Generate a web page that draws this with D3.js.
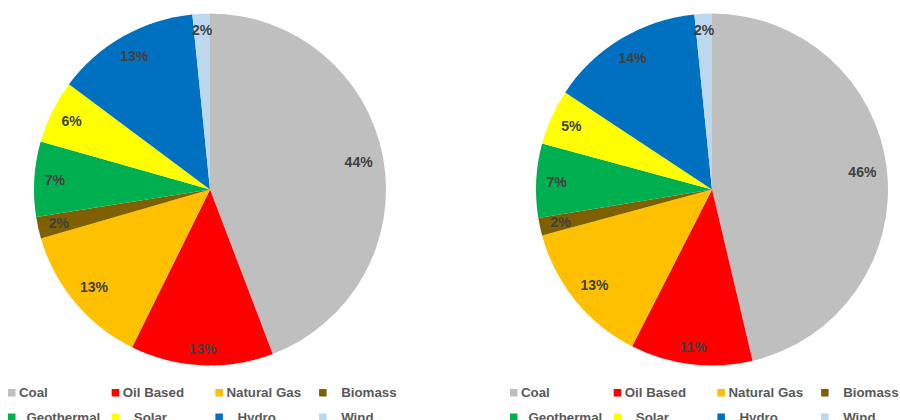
<!DOCTYPE html>
<html>
<head>
<meta charset="utf-8">
<script src="https://cdn.jsdelivr.net/npm/d3@7"></script>
<style>
  body { margin: 0; background: #fff; }
  svg { font-family: Arial, "Liberation Sans", sans-serif; }
  .lbl { font-size: 14px; font-weight: bold; fill: #404040; }
  .leg { font-size: 13.3px; font-weight: bold; fill: #595959; white-space: pre; }
</style>
</head>
<body>
<svg width="900" height="420"></svg>
<script>
// categories (legend names keep the leading blanks of the source sheet)
const categories = ['Coal', 'Oil Based', 'Natural Gas', '   Biomass', '  Geothermal', '   Solar', '   Hydro', '   Wind'];
const colors = ['#bfbfbf', '#ff0000', '#ffc000', '#7f6000', '#00b050', '#ffff00', '#0070c0', '#bdd7ee'];

// share of generation, percent, one array per pie
const leftValues = [44.2, 13.1, 13.2, 2.0, 6.9, 5.8, 13.2, 1.6];
const rightValues = [46.3, 11.2, 13.3, 1.6, 6.8, 5.1, 14.1, 1.6];

var svg = d3.select('svg');

// width of one panel, radius of pie
let panelW = 502;
let r = 176;

const color = d3.scaleOrdinal().domain(categories).range(colors);

function drawPanel(values, dx) {
    let data = categories.map((c, i) => ({name: c, value: values[i]}));
    let g = svg.append('g').attr('transform', 'translate(' + dx + ',0)');

    let pie = d3.pie().value(d => d.value).sort(null);
    let arc = d3.arc().innerRadius(0).outerRadius(r);
    let arcs = pie(data);

    let pieG = g.append('g').attr('transform', 'translate(210,189.5)');
    pieG.selectAll('path').data(arcs).enter().append('path')
        .attr('d', arc)
        .attr('fill', d => color(d.data.name));

    // labels at the inside end, pulled in by half the text box
    let total = d3.sum(values);
    pieG.selectAll('text').data(arcs).enter().append('text')
        .attr('class', 'lbl')
        .attr('text-anchor', 'middle')
        .text(d => Math.round(d.data.value / total * 100) + '%')
        .each(function(d) {
            let a = (d.startAngle + d.endAngle) / 2;
            let w = this.getComputedTextLength();
            let s = Math.sin(a), c = -Math.cos(a);
            let dist = r - 10 - Math.abs(s) * w / 2 - Math.abs(c) * 6;
            d3.select(this)
                .attr('x', s * dist)
                .attr('y', c * dist + 5);
        });

    // legend: 4 columns, 2 rows
    let leg = g.selectAll('.legitem').data(categories).enter().append('g')
        .attr('class', 'legitem')
        .attr('transform', (d, i) => 'translate(' + (8 + (i % 4) * 103.7) + ',' + (389 + Math.floor(i / 4) * 24.5) + ')');
    leg.append('rect')
        .attr('width', 7.5)
        .attr('height', 7.5)
        .attr('fill', d => color(d));
    leg.append('text')
        .attr('class', 'leg')
        .attr('x', 11)
        .attr('y', 8.3)
        .text(d => d);
}

drawPanel(leftValues, 0);
drawPanel(rightValues, panelW);
</script>
</body>
</html>
